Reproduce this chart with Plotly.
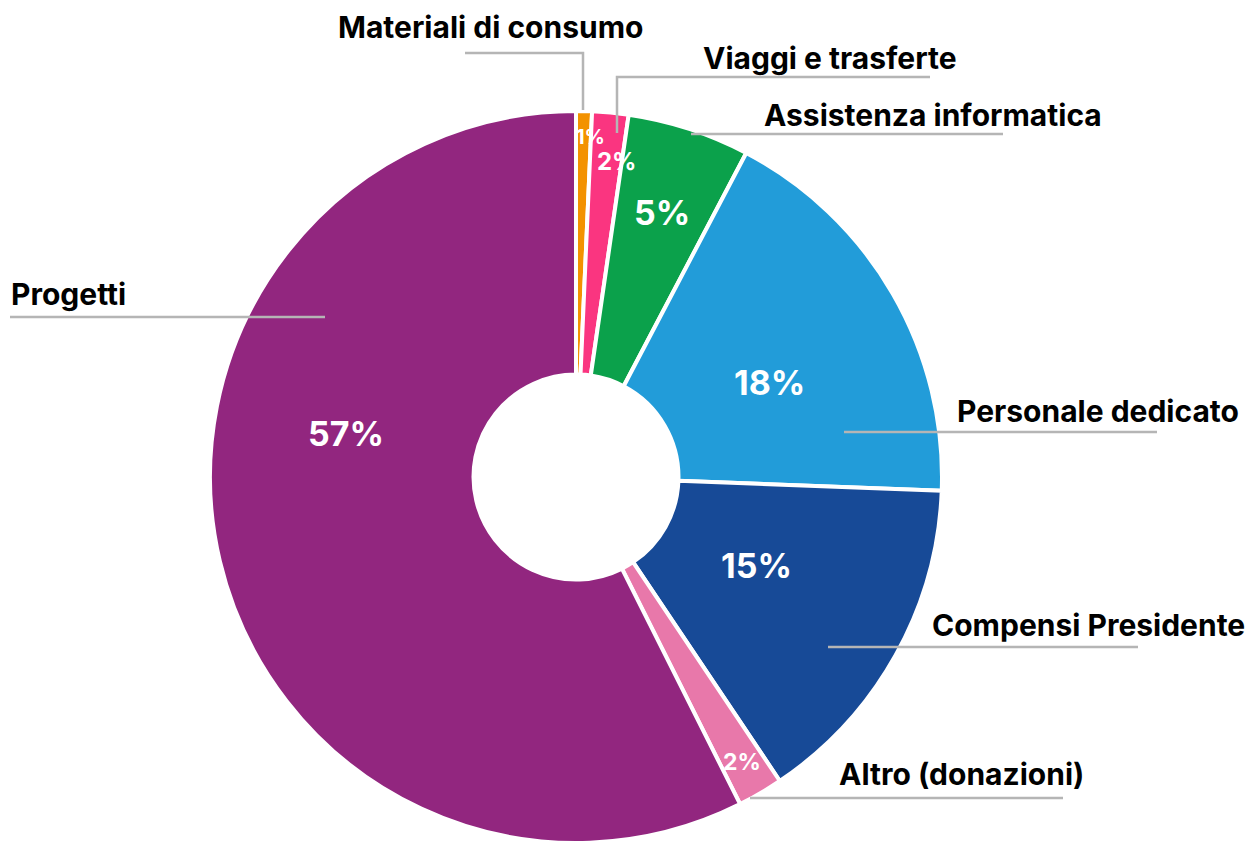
import math
import plotly.graph_objects as go

# Spending breakdown (share of total, %)
categories = [
    "Materiali di consumo",
    "Viaggi e trasferte",
    "Assistenza informatica",
    "Personale dedicato",
    "Compensi Presidente",
    "Altro (donazioni)",
    "Progetti",
]
shares = [0.7, 1.6, 5.4, 17.9, 15.0, 2.0, 57.4]
colors = ["#F39200", "#FA3580", "#0BA14B", "#229CD9", "#174A97", "#E878AA", "#92267F"]

W, H = 1251, 845

# Pie placement in pixels
CX, CY, R = 576, 477, 366
dom_x = [(CX - R) / W, (CX + R) / W]
dom_y = [1 - (CY + R) / H, 1 - (CY - R) / H]

# Percentage label styling: radius fraction, angular nudge (deg), font size
pct_style = [
    (0.93, 1.2, 20),
    (0.87, 2.0, 24),
    (0.76, 0.0, 34),
    (0.59, 4.0, 34),
    (0.55, -3.0, 34),
    (0.90, 0.0, 23),
    (0.64, 24.0, 34),
]

# Category label layout: leader line polyline (px) and label centre (px)
label_layout = [
    ([(583, 110), (583, 53), (465, 53)], (490, 27)),
    ([(617, 133), (617, 77), (930, 77)], (830, 58)),
    ([(691, 134), (1003, 134)], (933, 115)),
    ([(844, 432), (1157, 432)], (1098, 411)),
    ([(828, 647), (1138, 647)], (1088, 625)),
    ([(750, 798), (1063, 798)], (961, 774)),
    ([(325, 317), (10, 317)], (68, 294)),
]

FONT = "Inter, Roboto, sans-serif"


def px_to_paper(x, y):
    return x / W, 1 - y / H


fig = go.Figure(
    go.Pie(
        labels=categories,
        values=shares,
        sort=False,
        direction="clockwise",
        rotation=0,
        hole=0.28,
        marker=dict(colors=colors, line=dict(color="white", width=4)),
        textinfo="none",
        hoverinfo="label+percent",
        domain=dict(x=dom_x, y=dom_y),
        showlegend=False,
    )
)

annotations = []
shapes = []

total = sum(shares)
cum = 0.0
for name, val, (rf, nudge, fs) in zip(categories, shares, pct_style):
    mid = (cum + val / 2) / total * 360 + nudge
    cum += val
    a = math.radians(mid)
    tx = CX + rf * R * math.sin(a)
    ty = CY - rf * R * math.cos(a)
    x, y = px_to_paper(tx, ty)
    annotations.append(
        dict(
            x=x, y=y, xref="paper", yref="paper",
            text=f"<b>{round(val / total * 100)}%</b>",
            showarrow=False,
            font=dict(family=FONT, size=fs, color="white"),
            xanchor="center", yanchor="middle",
        )
    )

for name, (pts, (lx, ly)) in zip(categories, label_layout):
    path = "M " + " L ".join(
        f"{px_to_paper(px, py)[0]},{px_to_paper(px, py)[1]}" for px, py in pts
    )
    shapes.append(
        dict(type="path", xref="paper", yref="paper", path=path,
             line=dict(color="#B5B5B5", width=2.5))
    )
    x, y = px_to_paper(lx, ly)
    annotations.append(
        dict(
            x=x, y=y, xref="paper", yref="paper",
            text=f"<b>{name}</b>",
            showarrow=False,
            font=dict(family=FONT, size=30, color="black"),
            xanchor="center", yanchor="middle",
        )
    )

fig.update_layout(
    width=W,
    height=H,
    margin=dict(l=0, r=0, t=0, b=0),
    paper_bgcolor="white",
    plot_bgcolor="white",
    annotations=annotations,
    shapes=shapes,
)

fig.write_html("out.html")
